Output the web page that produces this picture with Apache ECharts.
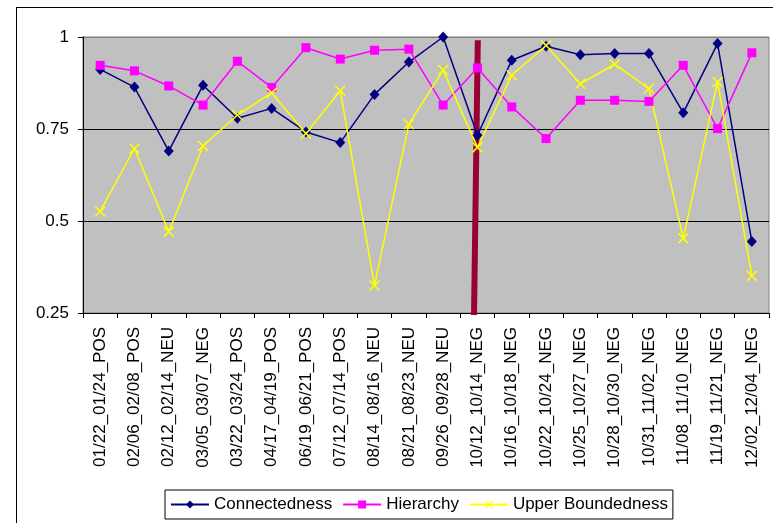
<!DOCTYPE html>
<html>
<head>
<meta charset="utf-8">
<script src="https://cdn.jsdelivr.net/npm/echarts@6/dist/echarts.min.js"></script>
<style>
  html, body { margin: 0; padding: 0; background: #ffffff; overflow: hidden; }
  #frame { position: absolute; left: 16px; top: 7px; width: 800px; height: 600px;
           border: 1px solid #000; box-sizing: border-box; pointer-events: none; }
  #chart { position: absolute; left: 0; top: 0; width: 773px; height: 523px; }
</style>
</head>
<body>
<div id="frame"></div>
<div id="chart"></div>
<script>
// Period labels (date range + sentiment)
const categories = [
  '01/22_01/24_POS', '02/06_02/08_POS', '02/12_02/14_NEU', '03/05_03/07_NEG',
  '03/22_03/24_POS', '04/17_04/19_POS', '06/19_06/21_POS', '07/12_07/14_POS',
  '08/14_08/16_NEU', '08/21_08/23_NEU', '09/26_09/28_NEU', '10/12_10/14_NEG',
  '10/16_10/18_NEG', '10/22_10/24_NEG', '10/25_10/27_NEG', '10/28_10/30_NEG',
  '10/31_11/02_NEG', '11/08_11/10_NEG', '11/19_11/21_NEG', '12/02_12/04_NEG'
];

const connectedness = [
  0.912, 0.864, 0.690, 0.869, 0.779, 0.806, 0.742, 0.713, 0.844, 0.932,
  1.000, 0.733, 0.937, 0.975, 0.952, 0.955, 0.955, 0.794, 0.982, 0.444
];

const hierarchy = [
  0.923, 0.908, 0.867, 0.815, 0.934, 0.863, 0.971, 0.940, 0.964, 0.967,
  0.815, 0.916, 0.810, 0.724, 0.828, 0.828, 0.825, 0.923, 0.751, 0.957
];

const upperBoundedness = [
  0.526, 0.697, 0.471, 0.704, 0.788, 0.848, 0.738, 0.854, 0.325, 0.763,
  0.910, 0.700, 0.896, 0.977, 0.873, 0.926, 0.860, 0.453, 0.878, 0.351
];

// Divider drawn through the 10/12 period: [position on a 0..20 period scale, value]
const dividerLine = [[11.51, 0.991], [11.40, 0.2446]];

const yTicks = { min: 0.25, max: 1, interval: 0.25 };

const FONT = "'Liberation Sans', Arial, sans-serif";
const crossSymbol = 'path://M0,1 L1,0 L5,4 L9,0 L10,1 L6,5 L10,9 L9,10 L5,6 L1,10 L0,9 L4,5 Z';

const chart = echarts.init(document.getElementById('chart'), null, { renderer: 'canvas' });

chart.setOption({
  animation: false,
  textStyle: { fontFamily: FONT },
  grid: {
    left: 83, right: 4, top: 37, height: 276,
    show: true, backgroundColor: '#C0C0C0', borderColor: '#808080', borderWidth: 1
  },
  xAxis: [{
    type: 'category',
    data: categories,
    boundaryGap: true,
    axisLine: { lineStyle: { color: '#000', width: 1 } },
    axisTick: { show: true, inside: false, length: 5, alignWithLabel: false,
                lineStyle: { color: '#000' } },
    axisLabel: { interval: 0, rotate: 90, margin: 14, fontSize: 17,
                 color: '#000', fontFamily: FONT },
    splitLine: { show: false }
  }, {
    type: 'value', min: 0, max: 20, show: false
  }],
  yAxis: {
    type: 'value',
    min: yTicks.min, max: yTicks.max, interval: yTicks.interval,
    axisLine: { show: true, lineStyle: { color: '#000', width: 1 } },
    axisTick: { show: true, inside: false, length: 5, lineStyle: { color: '#000' } },
    axisLabel: { margin: 14, fontSize: 17, color: '#000', fontFamily: FONT },
    splitLine: { show: true, lineStyle: { color: ['#000', '#000', '#000', '#808080'], width: 1 } }
  },
  legend: {
    data: ['Connectedness', 'Hierarchy', 'Upper Boundedness'],
    left: 165, top: 490,
    padding: [6, 5, 6, 5],
    itemWidth: 38, itemHeight: 10, itemGap: 10,
    backgroundColor: '#fff', borderColor: '#000', borderWidth: 1,
    textStyle: { fontSize: 17, color: '#000', fontFamily: FONT }
  },
  series: [
    {
      name: 'divider', type: 'line', xAxisIndex: 1,
      data: dividerLine, symbol: 'none', clip: false, silent: true,
      lineStyle: { color: '#990033', width: 6 }, z: 1
    },
    {
      name: 'Connectedness', type: 'line', data: connectedness,
      symbol: 'diamond', symbolSize: [10, 11],
      itemStyle: { color: '#000080' },
      lineStyle: { color: '#000080', width: 1.5 }, z: 3
    },
    {
      name: 'Hierarchy', type: 'line', data: hierarchy,
      symbol: 'rect', symbolSize: 9,
      itemStyle: { color: '#FF00FF' },
      lineStyle: { color: '#FF00FF', width: 1.5 }, z: 3
    },
    {
      name: 'Upper Boundedness', type: 'line', data: upperBoundedness,
      symbol: crossSymbol, symbolSize: 11,
      itemStyle: { color: '#FFFF00' },
      lineStyle: { color: '#FFFF00', width: 1.5 }, z: 3
    }
  ]
});
</script>
</body>
</html>
